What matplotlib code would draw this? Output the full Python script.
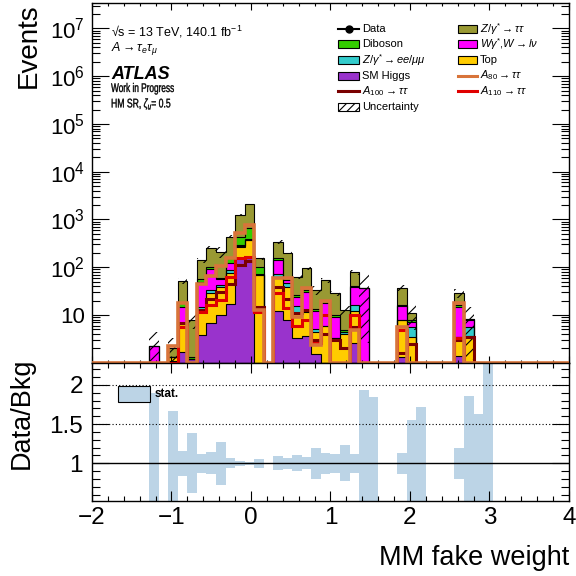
import numpy as np
import matplotlib
matplotlib.use("Agg")
import matplotlib.pyplot as plt
from matplotlib.patches import Rectangle, PathPatch
from matplotlib.lines import Line2D
from matplotlib.textpath import TextPath
from matplotlib.font_manager import FontProperties
from matplotlib.transforms import Affine2D, ScaledTranslation
from matplotlib.ticker import MultipleLocator, LogLocator, FuncFormatter, NullFormatter, FixedLocator

plt.rcParams['font.family'] = ['Liberation Sans', 'DejaVu Sans']
plt.rcParams['mathtext.fontset'] = 'custom'
plt.rcParams['mathtext.rm'] = 'Liberation Sans'
plt.rcParams['mathtext.it'] = 'Liberation Sans:italic'
plt.rcParams['mathtext.bf'] = 'Liberation Sans:bold'
plt.rcParams['hatch.linewidth'] = 0.8

# 50 bins of width 0.12 between -2 and 4
bin_edges = np.round(np.linspace(-2.0, 4.0, 51), 2)

# background yields per bin
higgs = [0, 0, 0, 0, 0, 0, 0, 0, 1.1, 1.7,
         1.2, 3.8, 6.7, 10, 17, 153, 160, 0, 0, 12,
         8, 3.3, 3.6, 1.5, 0, 0, 0, 2.6, 0, 0,
         0, 0, 1.3, 0, 0, 0, 0, 0, 1.4, 0,
         0, 0, 0, 0, 0, 0, 0, 0, 0, 0]
top = [0, 0, 0, 0, 0, 0, 0, 0, 0.2, 4.8,
       0, 8.9, 21.8, 29, 60, 115, 210, 68.7, 0, 51,
       31, 8, 8, 3, 6, 3.3, 4, 9.6, 0, 0,
       0, 0, 6.6, 3.5, 0.45, 0, 0, 0, 2.1, 3.6,
       0, 0.3, 0, 0, 0, 0, 0, 0, 0, 0]
zll = [0, 0, 0, 0, 0, 0, 0, 0, 0, 0.3,
       0, 1.8, 4.5, 4, 11, 8, 10, 1.3, 0, 8,
       7, 4, 1.2, 0.5, 0, 0, 0.5, 4, 0, 0,
       0, 0, 0, 2.2, 0, 0, 0, 0, 0, 2.1,
       0, 0, 0, 0, 0, 0, 0, 0, 0, 0]
wjets = [0, 0, 0, 0, 0, 0, 2.3, 0, 0, 7.9,
         0, 35.5, 57.5, 14, 32, 16, 12, 4, 0, 70,
         9, 9, 18, 7, 11.6, 5.9, 0, 22, 37, 0.5,
         0, 0, 7.5, 1.5, 0, 0, 0, 0, 11.5, 2,
         0.5, 0, 0, 0, 0, 0, 0, 0, 0, 0]
diboson = [0, 0, 0, 0, 0, 0, 0, 0, 0.05, 2.9,
           0.15, 5.7, 11.5, 3, 33, 131, 280, 25.5, 0, 15,
           6, 2.2, 3, 1.2, 1.7, 0.8, 0.3, 2, 0, 0,
           0, 0, 1.2, 0.5, 0, 0, 0, 0, 1, 0.4,
           0, 0, 0, 0, 0, 0, 0, 0, 0, 0]
ztt = [0, 0, 0, 0, 0, 0, 0, 0, 0.65, 34.4,
       6.7, 85, 148, 151, 282, 820, 1408, 53.5, 0, 186,
       140, 36.5, 61, 19.8, 34.7, 19, 7.9, 39.8, 0, 0,
       0, 0, 20.4, 3.1, 0, 0, 0, 0, 13, 0,
       0, 0, 0, 0, 0, 0, 0, 0, 0, 0]

# relative stat. uncertainty of the background
stat_rel_err = [0, 0, 0, 0, 0, 0, 0.9, 0, 0.67, 0.16,
                0.38, 0.12, 0.14, 0.27, 0.065, 0.035, 0.02, 0.055, 0, 0.09,
                0.07, 0.10, 0.077, 0.20, 0.13, 0.12, 0.23, 0.12, 0.93, 0.84,
                0, 0, 0.13, 0.55, 0.72, 0, 0, 0, 0.20, 0.86,
                0.63, 1.6, 0, 0, 0, 0, 0, 0, 0, 0]

# signal hypotheses
a80 = [0, 0, 0, 0, 0, 0, 0, 0, 2.3, 17.6,
       0, 44.5, 66, 106, 155, 512, 760, 12.7, 0, 58.6,
       58.6, 9.2, 37, 2.4, 19.5, 0, 0, 4.9, 0, 0,
       0, 0, 5.6, 0, 0, 0, 0, 0, 17.5, 0,
       0, 0, 0, 0, 0, 0, 0, 0, 0, 0]
a100 = [0, 0, 0, 0, 0, 0, 0, 0, 0, 6.7,
        0, 13, 22, 30, 45, 110, 135, 15, 0, 39,
        22, 10.8, 12.7, 3, 4.1, 3, 2, 5.7, 0, 0,
        0, 0, 1.6, 2.5, 0, 0, 0, 0, 3, 3.5,
        0, 0, 0, 0, 0, 0, 0, 0, 0, 0]
a110 = [0, 0, 0, 0, 0, 0, 0, 0, 0, 5.7,
        0, 11.7, 16, 20.6, 63, 153, 166, 11.7, 0, 28.4,
        14, 6, 8, 2.6, 10, 0, 0, 10, 0, 0,
        0, 0, 4.9, 0, 0, 0, 0, 0, 3.3, 0,
        0, 0, 0, 0, 0, 0, 0, 0, 0, 0]

c_higgs, c_top, c_zll = '#9933cc', '#ffcc00', '#33cccc'
c_w, c_dib, c_ztt = '#ff00ff', '#33cc00', '#999933'
c_a80, c_a100, c_a110 = '#d8743a', '#7a0000', '#e00000'
c_stat = '#bcd4e6'

Y_MIN, Y_MAX = 1.0, 3.4e7

fig = plt.figure(figsize=(5.76, 5.76), dpi=100)
ax = fig.add_axes([0.1597, 0.3701, 0.8281, 0.6247])
axr = fig.add_axes([0.1597, 0.1302, 0.8281, 0.2399], sharex=ax)

# stacked background, drawn like a THStack (top layer first)
layers = [higgs, top, zll, wjets, diboson, ztt]
colors = [c_higgs, c_top, c_zll, c_w, c_dib, c_ztt]
cum = np.cumsum(np.array(layers, dtype=float), axis=0)
for i in range(len(layers) - 1, -1, -1):
    ax.stairs(cum[i], bin_edges, baseline=1e-3, fill=True, color=colors[i], lw=0, zorder=1)
    ax.stairs(cum[i], bin_edges, baseline=1e-3, color='black', lw=0.8, zorder=1.1)

total = cum[-1]
err = np.array(stat_rel_err)
centers = 0.5 * (bin_edges[1:] + bin_edges[:-1])
has = total > 0
lo = np.clip(total * (1 - err), 1e-3, None)
hi = total * (1 + err)
ax.bar(centers[has], (hi - lo)[has], bottom=lo[has], width=0.12, fill=False,
       hatch='///', edgecolor='black', lw=0, zorder=2)

for vals, col, lw in [(a100, c_a100, 2.2), (a110, c_a110, 2.2), (a80, c_a80, 2.6)]:
    ax.stairs(np.clip(vals, Y_MIN, None), bin_edges, baseline=None, color=col, lw=lw, zorder=3)

ax.set_yscale('log')
ax.set_ylim(Y_MIN, Y_MAX)
ax.set_xlim(-2, 4)
ax.yaxis.set_major_locator(LogLocator(base=10, numticks=12))
ax.yaxis.set_minor_locator(LogLocator(base=10, subs=np.arange(2, 10), numticks=12))
ax.yaxis.set_minor_formatter(NullFormatter())


def log_label(v, pos):
    if v < 5 or v > 2e7:
        return ''
    n = int(round(np.log10(v)))
    return '10' if n == 1 else r'$\mathregular{10^{%d}}$' % n


ax.yaxis.set_major_formatter(FuncFormatter(log_label))
ax.xaxis.set_major_locator(MultipleLocator(1))
ax.xaxis.set_minor_locator(MultipleLocator(0.2))
ax.tick_params(which='both', direction='in', top=True, right=True, width=0.8)
ax.tick_params(axis='y', which='major', length=12, labelsize=16, pad=5)
ax.tick_params(axis='y', which='minor', length=6)
ax.tick_params(axis='x', which='major', length=5, labelbottom=False)
ax.tick_params(axis='x', which='minor', length=2.5)
for s in ax.spines.values():
    s.set_linewidth(1.0)

ax.set_ylabel('Events', fontsize=20, loc='top')
ax.yaxis.set_label_coords(-0.105, 1.0)


def squeezed_text(x, y, s, size, xscale):
    # text drawn as a path so it can be narrowed like in the original canvas
    path = TextPath((0, 0), s, size=size, prop=FontProperties(family='Liberation Sans'))
    k = fig.dpi / 72.0
    tr = Affine2D().scale(xscale * k, k) + ScaledTranslation(x, y, ax.transAxes)
    ax.add_artist(PathPatch(path, transform=tr, facecolor='black', edgecolor='black',
                            lw=0.25, clip_on=False))


# labels top left
tl = dict(transform=ax.transAxes, ha='left', va='baseline')
ax.text(0.040, 0.9055, r'√s = 13 TeV, 140.1 fb$^{-1}$', fontsize=9, **tl)
ax.text(0.040, 0.8666, r'$A\rightarrow\tau_{e}\tau_{\mu}$', fontsize=9, **tl)
ax.text(0.040, 0.788, 'ATLAS', fontsize=13, weight='bold', style='italic', **tl)
squeezed_text(0.040, 0.7527, 'Work in Progress', 9, 0.66)
squeezed_text(0.040, 0.7096, r'HM SR, $\zeta_{u}$= 0.5', 9, 0.69)

# legend, two columns
leg_left = [('Data', 'data', 'black'),
            ('Diboson', 'box', c_dib),
            (r'$Z/\gamma^{*}\rightarrow ee/\mu\mu$', 'box', c_zll),
            ('SM Higgs', 'box', c_higgs),
            (r'$A_{100}\rightarrow\tau\tau$', 'line', c_a100),
            ('Uncertainty', 'hatch', 'black')]
leg_right = [(r'$Z/\gamma^{*}\rightarrow\tau\tau$', 'box', c_ztt),
             (r'$W\gamma^{*}$,$W\rightarrow l\nu$', 'box', c_w),
             ('Top', 'box', c_top),
             (r'$A_{80}\rightarrow\tau\tau$', 'line', c_a80),
             (r'$A_{110}\rightarrow\tau\tau$', 'line', c_a110)]


def draw_legend(entries, x0, w):
    y0, dy, bh = 0.9286, 0.0434, 0.0222
    for i, (label, kind, col) in enumerate(entries):
        y = y0 - i * dy
        if kind == 'box':
            ax.add_patch(Rectangle((x0, y - bh / 2), w, bh, transform=ax.transAxes,
                                   facecolor=col, edgecolor='black', lw=0.8, zorder=5))
        elif kind == 'hatch':
            ax.add_patch(Rectangle((x0, y - bh / 2), w, bh, transform=ax.transAxes,
                                   fill=False, hatch='////', edgecolor='black', lw=0.8, zorder=5))
        elif kind == 'line':
            ax.add_line(Line2D([x0, x0 + w], [y, y], transform=ax.transAxes,
                               color=col, lw=2.2, zorder=5))
        else:
            ax.add_line(Line2D([x0, x0 + w], [y, y], transform=ax.transAxes,
                               color=col, lw=1.5, zorder=5))
            ax.add_line(Line2D([x0 + w / 2], [y], transform=ax.transAxes, marker='o',
                               ms=5, color=col, zorder=5))
        ax.text(x0 + w + 0.006, y, label, transform=ax.transAxes, fontsize=8,
                ha='left', va='center', zorder=5)


draw_legend(leg_left, 0.516, 0.044)
draw_legend(leg_right, 0.767, 0.040)

# ratio panel
axr.bar(centers[has], 2 * err[has], bottom=1 - err[has], width=0.12, color=c_stat, lw=0)
axr.axhline(1, color='black', lw=1)
for yl in (1.5, 2):
    axr.axhline(yl, color='black', lw=0.8, ls=(0, (1, 2)))
axr.set_ylim(0.52, 2.28)
axr.set_xlim(-2, 4)
axr.yaxis.set_major_locator(FixedLocator([1, 1.5, 2]))
axr.yaxis.set_minor_locator(MultipleLocator(0.1))
axr.yaxis.set_major_formatter(FuncFormatter(lambda v, p: f'{v:g}'))
axr.tick_params(which='both', direction='in', top=True, right=True, width=0.8)
axr.tick_params(axis='y', which='major', length=12, labelsize=17.5, pad=6.5)
axr.tick_params(axis='y', which='minor', length=6)
axr.tick_params(axis='x', which='major', length=7, labelsize=17.5, pad=4)
axr.tick_params(axis='x', which='minor', length=3.5)
for s in axr.spines.values():
    s.set_linewidth(1.0)

axr.add_patch(Rectangle((0.0545, 0.7185), 0.067, 0.1155, transform=axr.transAxes,
                        facecolor=c_stat, edgecolor='black', lw=0.8, zorder=5))
axr.text(0.132, 0.774, 'stat.', transform=axr.transAxes, fontsize=8.5, weight='bold',
         ha='left', va='center')

axr.set_ylabel('Data/Bkg', fontsize=19.5, loc='top')
axr.yaxis.set_label_coords(-0.119, 1.035)
axr.set_xlabel('MM fake weight', fontsize=19.5, loc='right')
axr.xaxis.set_label_coords(1.0, -0.318)

fig.savefig('out.png', dpi=100)
